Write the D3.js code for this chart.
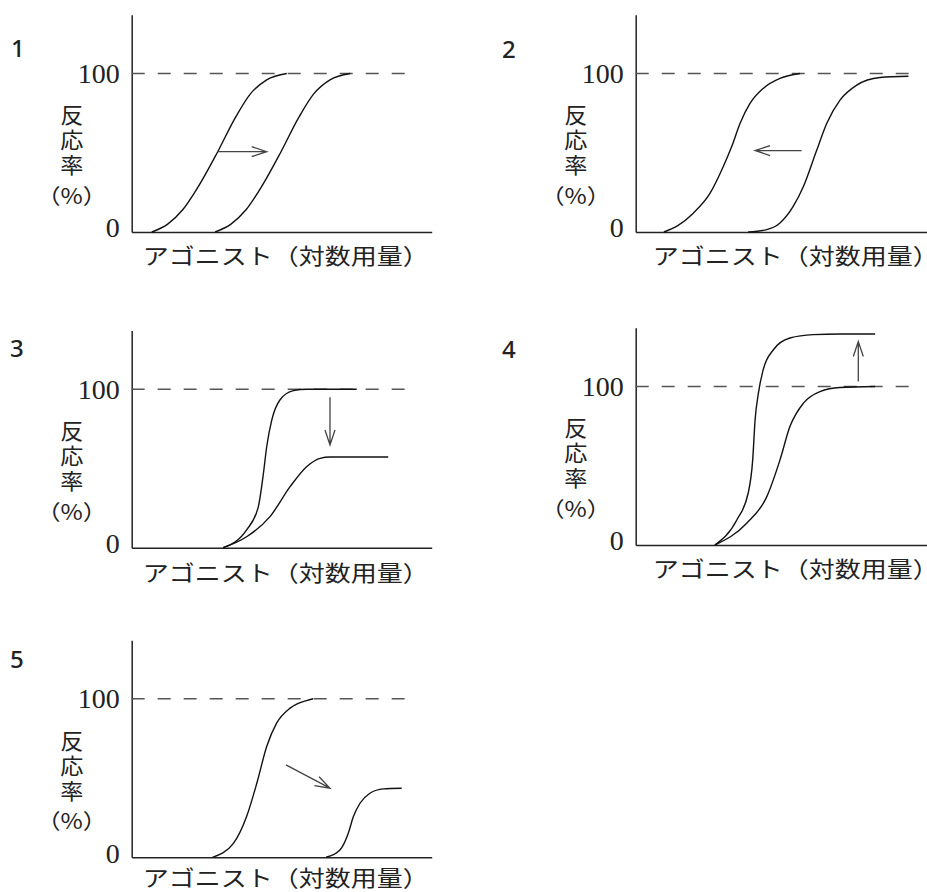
<!DOCTYPE html>
<html>
<head>
<meta charset="utf-8">
<script src="https://cdn.jsdelivr.net/npm/d3@7"></script>
<style>
  html, body { margin: 0; padding: 0; background: #fff; }
  svg { display: block; }
</style>
</head>
<body>
<svg id="plot"></svg>
<script>
// values: x = log dose (arbitrary 0-10), y = response %
const yTicks = [0, 100];
const yLabelMain = "反応率";
const yLabelUnit = "（%）";
const xLabel = "アゴニスト（対数用量）";
const panelNames = ["1", "2", "3", "4", "5"];
const maxLine = 100; // dashed 100% line
const maxLineEnd = 9.33;

const curves1 = [
  [[0.67, 0], [1.2, 5], [1.7, 14], [2.2, 28], [2.85, 50], [3.45, 72], [3.95, 87], [4.5, 96], [5.17, 100]],
  [[2.78, 0], [3.31, 5], [3.81, 14], [4.31, 28], [4.96, 50], [5.56, 72], [6.06, 87], [6.61, 96], [7.28, 100]],
];
const curves2 = [
  [[0.94, 0], [1.4, 4], [1.92, 11.9], [2.48, 24.5], [2.92, 41.3], [3.2, 53.9], [3.48, 68.6], [3.81, 81.1], [4.25, 90.6], [4.81, 96.9], [5.48, 100]],
  [[3.75, 0], [4.37, 1.5], [4.81, 5.7], [5.25, 16.1], [5.59, 28.7], [6.03, 51.4], [6.37, 68.6], [6.81, 83.2], [7.37, 92.7], [8.14, 97.5], [9.09, 98.3]],
];
const curves3 = [
  [[3.05, 0], [3.83, 11.2], [4.22, 25.8], [4.39, 46.8], [4.5, 63.7], [4.67, 80.6], [4.94, 93.2], [5.39, 99.1], [5.83, 100], [7.5, 100]],
  [[3.05, 0], [3.83, 6.9], [4.61, 19.6], [5.28, 38.5], [5.83, 51.1], [6.28, 56.4], [6.61, 57.2], [8.55, 57.2]],
];
const curves4 = [
  [[2.64, 0], [3.37, 15.8], [3.75, 32.8], [3.9, 53.7], [3.98, 79], [4.09, 95.8], [4.25, 110.6], [4.59, 123.2], [5.14, 130.6], [5.92, 132.7], [6.81, 133.1], [7.98, 133.1]],
  [[2.64, 0], [3.7, 13.7], [4.37, 30.5], [4.81, 53.7], [5.14, 74.7], [5.59, 89.5], [6.14, 96.8], [6.81, 99.4], [7.98, 100]],
];
const curves5 = [
  [[2.69, 0], [3.39, 8.8], [3.83, 25.7], [4.17, 46.7], [4.5, 69.9], [4.83, 84.6], [5.28, 94.1], [5.83, 98.9], [6.05, 100]],
  [[6.48, 0], [6.94, 4.6], [7.22, 15.2], [7.39, 25.7], [7.61, 34.1], [7.94, 40.4], [8.39, 43.2], [9.0, 43.6]],
];

// arrows: [x1, y1, x2, y2], head at the second point
const arrows = [
  [2.85, 50.7, 4.5, 50.7],
  [5.53, 51.4, 3.98, 51.4],
  [6.61, 94.9, 6.61, 64.8],
  [7.42, 103.2, 7.42, 128.4],
  [5.14, 58.3, 6.61, 43.6],
];

const allCurves = [curves1, curves2, curves3, curves4, curves5];

// layout (pixels)
const W = 927, H = 892;
const plotW = 300, plot100 = 158.5, yMax = 137;
const layout = [
  { x0: 131.7, base: 232,   xMax: 10,   numX: 11,  numY: 57,  xlDx: 11, xlDy: 22 },
  { x0: 635.7, base: 232,   xMax: 10.3, numX: 502, numY: 58,  xlDx: 17, xlDy: 22 },
  { x0: 131.7, base: 547.7, xMax: 10,   numX: 10,  numY: 357, xlDx: 11, xlDy: 23 },
  { x0: 635.7, base: 545,   xMax: 10.3, numX: 502, numY: 358, xlDx: 17, xlDy: 22 },
  { x0: 131.7, base: 857.3, xMax: 10,   numX: 10,  numY: 668, xlDx: 11, xlDy: 19 },
];

const svg = d3.select("#plot").attr("width", W).attr("height", H);

const serif = "'Liberation Serif', 'DejaVu Serif', serif";
const cjk = "'Noto Sans CJK JP', sans-serif";

layout.forEach((p, i) => {
  const x = d3.scaleLinear().domain([0, 10]).range([p.x0, p.x0 + plotW]);
  const y = d3.scaleLinear().domain([0, 100]).range([p.base, p.base - plot100]);
  const g = svg.append("g");

  // panel number
  g.append("text")
    .attr("x", p.numX)
    .attr("y", p.numY)
    .attr("font-family", "'Noto Sans', sans-serif")
    .attr("font-size", 24)
    .attr("font-weight", 500)
    .attr("fill", "#222")
    .text(panelNames[i]);

  // y axis with 0 / 100 labels
  const yAxisScale = d3.scaleLinear().domain([0, yMax]).range([y(0), y(yMax)]);
  const yAxis = g.append("g")
    .attr("transform", `translate(${p.x0},0)`)
    .call(d3.axisLeft(yAxisScale).tickValues(yTicks).tickSize(0).tickSizeOuter(0).tickPadding(12));
  yAxis.select(".domain").attr("stroke", "#222").attr("stroke-width", 1.5);
  yAxis.selectAll("text")
    .attr("font-family", serif)
    .attr("font-size", 28)
    .attr("fill", "#222")
    .attr("transform", (d) => (d === 0 ? "translate(0,-4)" : null));

  // x axis
  const xAxisScale = d3.scaleLinear().domain([0, p.xMax]).range([x(0), x(p.xMax)]);
  const xAxis = g.append("g")
    .attr("transform", `translate(0,${p.base})`)
    .call(d3.axisBottom(xAxisScale).tickValues([]).tickSizeOuter(0));
  xAxis.select(".domain").attr("stroke", "#222").attr("stroke-width", 1.5);

  // dashed 100% line
  g.append("line")
    .attr("x1", x(0)).attr("x2", x(maxLineEnd))
    .attr("y1", y(maxLine)).attr("y2", y(maxLine))
    .attr("stroke", "#555")
    .attr("stroke-width", 1.5)
    .attr("stroke-dasharray", "13,13");

  // y label: vertical characters, then the unit
  g.append("text")
    .attr("transform", `translate(${p.x0 - 60},${p.base - 128}) scale(1.05,1)`)
    .attr("writing-mode", "tb")
    .attr("font-family", cjk)
    .attr("font-size", 22)
    .attr("letter-spacing", 3)
    .attr("fill", "#222")
    .text(yLabelMain);
  g.append("text")
    .attr("transform", `translate(${p.x0 - 60},${p.base - 37}) scale(1.15,1)`)
    .attr("text-anchor", "middle")
    .attr("dominant-baseline", "central")
    .attr("font-family", cjk)
    .attr("font-size", 21)
    .attr("fill", "#222")
    .text(yLabelUnit);

  // x label
  g.append("text")
    .attr("x", p.x0 + p.xlDx)
    .attr("y", p.base + p.xlDy)
    .attr("dominant-baseline", "central")
    .attr("font-family", cjk)
    .attr("font-size", 22)
    .attr("textLength", 286)
    .attr("lengthAdjust", "spacingAndGlyphs")
    .attr("fill", "#222")
    .text(xLabel);

  // curves
  const line = d3.line()
    .x((d) => x(d[0]))
    .y((d) => y(d[1]))
    .curve(d3.curveMonotoneX);

  g.selectAll(".curve")
    .data(allCurves[i])
    .enter()
    .append("path")
    .attr("class", "curve")
    .attr("d", line)
    .attr("fill", "none")
    .attr("stroke", "#111")
    .attr("stroke-width", 1.4);

  // arrow
  const a = arrows[i];
  const x1 = x(a[0]), y1 = y(a[1]), x2 = x(a[2]), y2 = y(a[3]);
  const ang = Math.atan2(y2 - y1, x2 - x1);
  const hl = 15, hw = 5;
  const hx = x2 - hl * Math.cos(ang), hy = y2 - hl * Math.sin(ang);
  const px = -Math.sin(ang) * hw, py = Math.cos(ang) * hw;
  g.append("path")
    .attr("d", `M${x1},${y1}L${x2},${y2}M${hx + px},${hy + py}L${x2},${y2}L${hx - px},${hy - py}`)
    .attr("fill", "none")
    .attr("stroke", "#444")
    .attr("stroke-width", 1.3);
});
</script>
</body>
</html>
